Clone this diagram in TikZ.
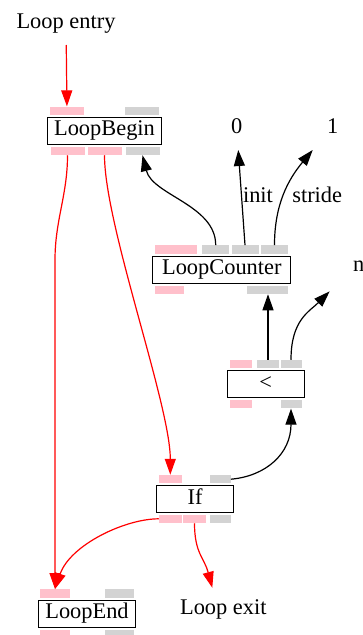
\documentclass[tikz,border=0pt]{standalone}
\usepackage{fontspec}
\setmainfont{Liberation Serif}
\usetikzlibrary{arrows.meta,positioning}
\definecolor{ctrlpink}{RGB}{255,192,203}
\definecolor{datagray}{RGB}{211,211,211}
\begin{document}
\begin{tikzpicture}[x=1pt,y=-1pt,>={Triangle[length=16pt,width=11pt]},
    font=\fontsize{22.4}{26}\selectfont,
    op/.style={draw,line width=1.2pt,minimum height=27pt,minimum width=77pt,inner xsep=6pt,text height=15pt,text depth=5pt},
    plain/.style={minimum height=43pt,text height=15pt,text depth=5pt},
    cport/.style={fill=ctrlpink,inner sep=0pt,minimum height=8.5pt,minimum width=#1},
    dport/.style={fill=datagray,inner sep=0pt,minimum height=8.5pt,minimum width=#1},
    ctrl/.style={->,red,line width=1.2pt},
    data/.style={->,line width=1.2pt}]

            \useasboundingbox (0,0) rectangle (363,635);

            \node[plain] (entry) at (66,23.3) {Loop entry};
            \node[plain] (zero) at (236.7,128.3) {0};
            \node[plain] (one) at (332.7,128.3) {1};
            \node[plain] (n) at (358.6,266.7) {n};
            \node[plain] (exit) at (223.3,609.5) {Loop exit};
            \node[plain] (init) at (258,197.3) {init};
            \node[plain] (stride) at (317.2,197.3) {stride};

            % LoopBegin
            \node[op,minimum width=114pt] (begin) at (104.5,130.8) {LoopBegin};
            \node[cport=34pt] (begin-in) at (67,110.8) {};
            \node[dport=34pt] (begin-din) at (141.7,110.8) {};
            \node[cport=34pt] (begin-out1) at (67.5,150.8) {};
            \node[cport=34pt] (begin-out2) at (104.5,150.8) {};
            \node[dport=34pt] (begin-dout) at (142.5,150.8) {};

            % LoopCounter
            \node[op,minimum width=138pt] (lc) at (221.8,269.7) {LoopCounter};
            \node[cport=42pt] (lc-in) at (176,249.5) {};
            \node[dport=27pt] (lc-d1) at (215.7,249.5) {};
            \node[dport=27pt] (lc-d2) at (245,249.5) {};
            \node[dport=27pt] (lc-d3) at (274.5,249.5) {};
            \node[cport=29pt] (lc-out) at (169.5,289.8) {};
            \node[dport=41pt] (lc-dout) at (267.7,289.8) {};

            % <
            \node[op] (lt) at (265.7,384.2) {<};
            \node[cport=22pt] (lt-in) at (241,364.2) {};
            \node[dport=22pt] (lt-d1) at (268,364.2) {};
            \node[dport=21pt] (lt-d2) at (291,364.2) {};
            \node[cport=22pt] (lt-out) at (241,404.2) {};
            \node[dport=21pt] (lt-dout) at (291,404.2) {};

            % If
            \node[op] (if) at (195,499) {If};
            \node[cport=22.7pt] (if-in) at (170.3,479.2) {};
            \node[dport=20.7pt] (if-d) at (220.3,479.2) {};
            \node[cport=22.7pt] (if-out1) at (170.3,518.8) {};
            \node[cport=22.4pt] (if-out2) at (194.5,518.8) {};
            \node[dport=20.7pt] (if-dout) at (220.3,518.8) {};

            % LoopEnd
            \node[op,minimum width=97pt] (end) at (87,613.7) {LoopEnd};
            \node[cport=30pt] (end-in) at (55,593.5) {};
            \node[dport=29pt] (end-d) at (119.5,593.5) {};
            \node[cport=30pt] (end-out) at (55,633.8) {};
            \node[dport=29pt] (end-dout) at (119.5,633.8) {};

            \draw[ctrl] (entry) -- (begin-in);
            \draw[ctrl] (begin-out1.south) .. controls +(0,40) and +(0,-40) .. (end-in |- 0,260) -- (end-in);
            \draw[ctrl] (begin-out2.south) .. controls +(0,70) and +(0,-70) .. (if-in.north);
            \draw[ctrl] (if-out1.west) .. controls +(-34,0) and +(15,-44) .. (end-in.north);
            \draw[ctrl] (if-out2.south) .. controls +(0,30) and +(-8,-30) .. ([shift={(-11,0)}]exit.north);

            \draw[data] (lc-d1.north) .. controls +(0,-40) and +(10,40) .. (begin-dout.south);
            \draw[data] (lc-d2.north) -- (zero);
            \draw[data] (lc-d3.north) .. controls +(0,-40) and +(-25,30) .. ([shift={(-20,0)}]one.south);
            \draw[data] (lt-d1.north) -- (lt-d1.north |- lc-dout.south);
            \draw[data] (lt-d2.north) .. controls +(0,-40) and +(-20,20) .. ([shift={(-29,3)}]n.south);
            \draw[data] (if-d.east) .. controls +(35,-3) and +(0,45) .. (lt-dout.south);
        \end{tikzpicture}
\end{document}
